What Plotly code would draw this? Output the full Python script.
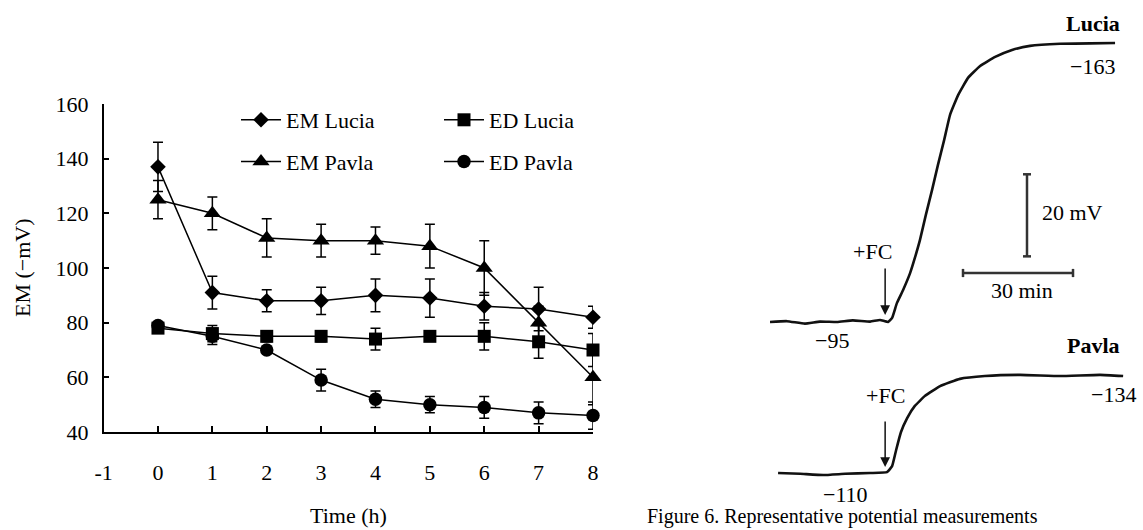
import plotly.graph_objects as go

W, H = 1143, 530
FONT = "Liberation Serif"
FS = 22

# ---------------- left panel data ----------------
hours = [0, 1, 2, 3, 4, 5, 6, 7, 8]
em_lucia = [137, 91, 88, 88, 90, 89, 86, 85, 82]
em_lucia_err = [9, 6, 4, 5, 6, 7, 5, 8, 4]
ed_lucia = [78, 76, 75, 75, 74, 75, 75, 73, 70]
ed_lucia_err = [1, 3, 2, 2, 4, 1, 5, 6, 6]
em_pavla = [125, 120, 111, 110, 110, 108, 100, 80, 60]
em_pavla_err = [7, 6, 7, 6, 5, 8, 10, 6, 10]
ed_pavla = [79, 75, 70, 59, 52, 50, 49, 47, 46]
ed_pavla_err = [1, 3, 1, 4, 3, 3, 4, 4, 5]

x_ticks = [-1, 0, 1, 2, 3, 4, 5, 6, 7, 8]
x_ticktext = ["-1", "0", "1", "2", "3", "4", "5", "6", "7", "8"]
y_ticks = [40, 60, 80, 100, 120, 140, 160]

# ---------------- right panel data (time in min, potential in mV) ----------------
lucia_t = [0, 4.6, 9.5, 13.6, 18.3, 22.6, 27.3, 30.0, 32.2, 33.3, 34.6, 36.3, 38.2,
           39.5, 40.9, 42.5, 44.2, 45.8, 47.5, 49.1, 51.3, 54.0, 57.3, 61.4, 66.0,
           70.9, 79.1, 87.3, 94.1]
lucia_mv = [-95, -95.2, -94.6, -95.1, -95, -95.4, -95.1, -95.5, -95, -96.0, -99.6,
            -102.8, -106.9, -110.6, -115.0, -121.1, -127.2, -133.3, -139.4, -145.5,
            -150.3, -154.5, -157.4, -159.6, -161.3, -162.3, -162.8, -162.9, -163.0]
pavla_t = [2.2, 8.2, 14.5, 20.5, 27.3, 31.9, 33.3, 34.4, 35.7, 37.4, 39.5, 42.3,
           46.4, 51.8, 58.6, 68.2, 79.1, 90.0, 96.3]
pavla_mv = [-110, -109.8, -109.5, -109.8, -110, -110.2, -111.7, -115.7, -120.1,
            -123.6, -126.6, -129.1, -131.5, -133.3, -134.0, -134.3, -134.0, -134.3, -134.0]

fc_time = 31.4
scale_mv = 20
scale_min = 30


def px(x):
    return x / W


def py(y):
    return 1 - y / H


fig = go.Figure()

series = [
    ("EM Lucia", em_lucia, em_lucia_err, "diamond", 12, "legend"),
    ("ED Lucia", ed_lucia, ed_lucia_err, "square", 13, "legend2"),
    ("EM Pavla", em_pavla, em_pavla_err, "triangle-up", 15, "legend"),
    ("ED Pavla", ed_pavla, ed_pavla_err, "circle", 13.5, "legend2"),
]
for name, vals, errs, sym, size, leg in series:
    fig.add_trace(go.Scatter(
        x=hours, y=vals, name=name, mode="lines+markers",
        line=dict(color="black", width=1.5),
        marker=dict(symbol=sym, size=size, color="black"),
        error_y=dict(type="data", array=errs, visible=True, color="black",
                     thickness=1.5, width=5),
        cliponaxis=False, legend=leg, legendgroup=name,
        xaxis="x", yaxis="y",
    ))

# traces on right panel
fig.add_trace(go.Scatter(x=lucia_t, y=lucia_mv, mode="lines", showlegend=False,
                         line=dict(color="#111", width=2.6, shape="spline", smoothing=0.35),
                         xaxis="x2", yaxis="y2"))
fig.add_trace(go.Scatter(x=pavla_t, y=pavla_mv, mode="lines", showlegend=False,
                         line=dict(color="#111", width=2.6, shape="spline", smoothing=0.35),
                         xaxis="x2", yaxis="y3"))

axis_common = dict(showline=True, linecolor="black", linewidth=1.5, ticks="inside",
                   ticklen=6, tickwidth=1.5, tickcolor="black", showgrid=False,
                   zeroline=False, automargin=False,
                   tickfont=dict(family=FONT, size=FS, color="black"))

t0_px = 770
tpx = 3.667
xr2 = [(740 - t0_px) / tpx, (W - t0_px) / tpx]

fig.update_layout(
    width=W, height=H, margin=dict(l=0, r=0, t=0, b=0, autoexpand=False),
    paper_bgcolor="white", plot_bgcolor="white",
    font=dict(family=FONT, size=FS, color="black"),
    xaxis=dict(domain=[px(103.6), px(593)], range=[-1, 8], tickvals=x_ticks,
               ticktext=x_ticktext, ticklabelstandoff=20, anchor="y", **axis_common),
    yaxis=dict(domain=[py(432), py(104)], range=[40, 160], tickvals=y_ticks,
               ticklabelstandoff=9, anchor="x", **axis_common),
    xaxis2=dict(domain=[px(740), 1.0], range=xr2, visible=False, anchor="y2",
                automargin=False),
    yaxis2=dict(domain=[py(340), py(20)],
                range=[-95 + (340 - 322) / 4.103, -95 + (20 - 322) / 4.103],
                visible=False, anchor="x2", automargin=False),
    yaxis3=dict(domain=[py(510), py(340)],
                range=[-110 + (510 - 473) / 4.04, -110 + (340 - 473) / 4.04],
                visible=False, anchor="x2", automargin=False),
    legend=dict(x=px(236), y=py(99), xanchor="left", yanchor="top",
                bgcolor="rgba(0,0,0,0)", tracegroupgap=10, itemwidth=40,
                font=dict(family=FONT, size=FS)),
    legend2=dict(x=px(439), y=py(99), xanchor="left", yanchor="top",
                 bgcolor="rgba(0,0,0,0)", tracegroupgap=10, itemwidth=40,
                 font=dict(family=FONT, size=FS)),
)

anns = [
    dict(text="Time (h)", x=px(348), y=py(515)),
    dict(text="EM (\u2212mV)", x=px(22), y=py(268), textangle=-90),
    dict(text="<b>Lucia</b>", x=px(1093), y=py(24)),
    dict(text="\u2212163", x=px(1092), y=py(67)),
    dict(text="+FC", x=px(872), y=py(251)),
    dict(text="20 mV", x=px(1072), y=py(212)),
    dict(text="30 min", x=px(1022), y=py(290)),
    dict(text="\u221295", x=px(832), y=py(340)),
    dict(text="<b>Pavla</b>", x=px(1093), y=py(345)),
    dict(text="+FC", x=px(885), y=py(396)),
    dict(text="\u2212134", x=px(1113), y=py(395)),
    dict(text="\u2212110", x=px(845), y=py(494)),
]
for a in anns:
    fig.add_annotation(xref="paper", yref="paper", showarrow=False, xanchor="center",
                       yanchor="middle",
                       font=dict(family=FONT, size=FS, color="black"), **a)

fig.add_annotation(text="Figure 6. Representative potential measurements",
                   xref="paper", yref="paper", x=px(645), y=0.0,
                   xanchor="left", yanchor="bottom", showarrow=False,
                   font=dict(family=FONT, size=20, color="black"))

# +FC arrows
fig.add_annotation(x=fc_time, y=-96.7, xref="x2", yref="y2", text="", showarrow=True,
                   ax=0, ay=-48, arrowhead=2, arrowsize=1.3, arrowwidth=1.5,
                   arrowcolor="#111")
fig.add_annotation(x=fc_time, y=-111.5, xref="x2", yref="y3", text="", showarrow=True,
                   ax=0, ay=-47, arrowhead=2, arrowsize=1.3, arrowwidth=1.5,
                   arrowcolor="#111")

# scale bars
bar = dict(color="#333", width=2.5)
vt = (1027 - t0_px) / tpx
v_top, v_bot = -131.0, -131.0 + scale_mv
fig.add_shape(type="line", xref="x2", yref="y2", x0=vt, x1=vt, y0=v_top, y1=v_bot, line=bar)
for v in (v_top, v_bot):
    fig.add_shape(type="line", xref="x2", yref="y2", x0=vt - 1.1, x1=vt + 1.1,
                  y0=v, y1=v, line=bar)
h0 = (963 - t0_px) / tpx
hv = -95 + (273 - 322) / 4.103
fig.add_shape(type="line", xref="x2", yref="y2", x0=h0, x1=h0 + scale_min, y0=hv, y1=hv, line=bar)
for t in (h0, h0 + scale_min):
    fig.add_shape(type="line", xref="x2", yref="y2", x0=t, x1=t, y0=hv - 1.0, y1=hv + 1.0,
                  line=bar)

fig.write_html("out.html")
